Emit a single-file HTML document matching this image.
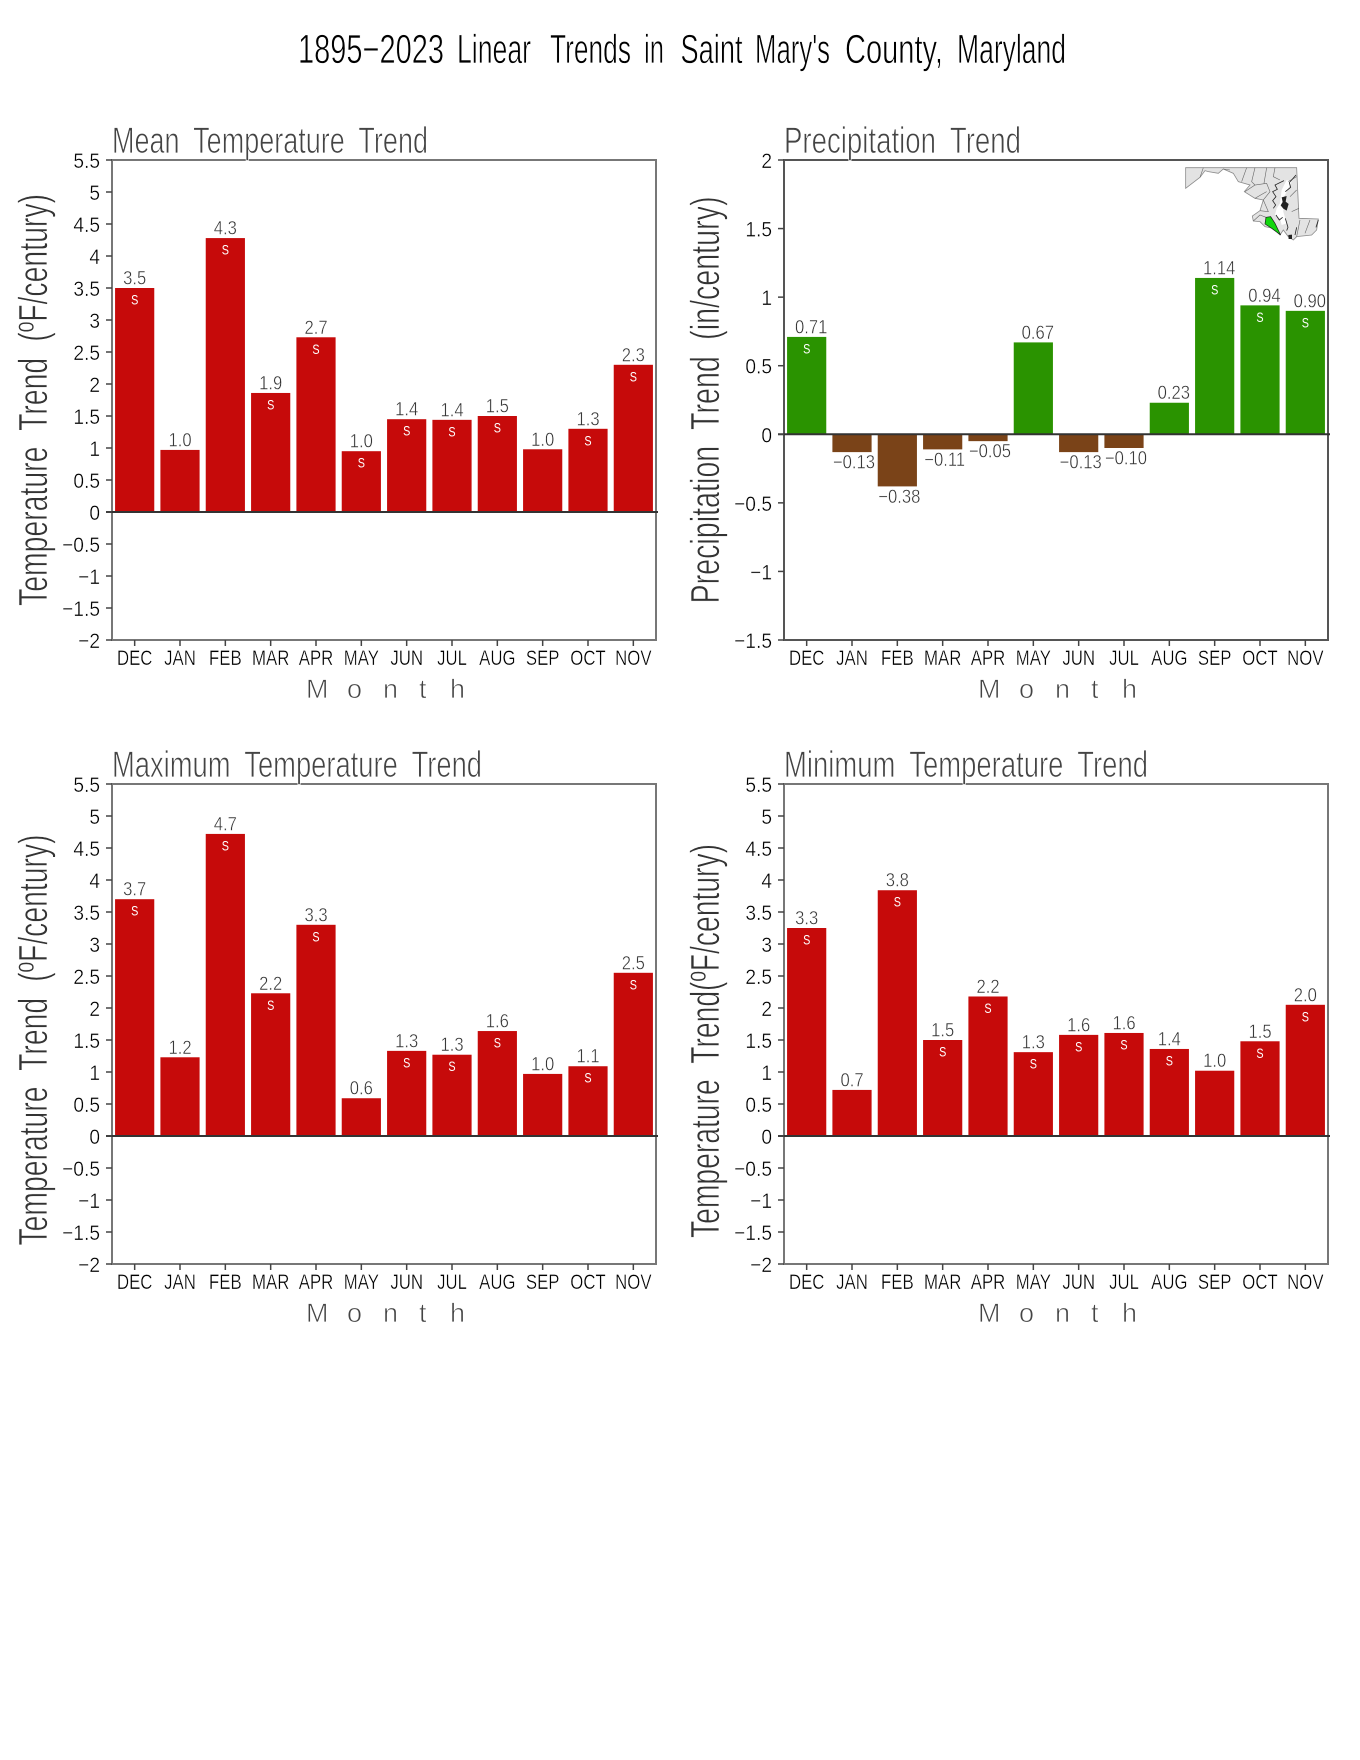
<!DOCTYPE html>
<html lang="en">
<head>
<meta charset="utf-8">
<title>1895–2023 Linear Trends in Saint Mary's County, Maryland</title>
<style>
html,body{margin:0;padding:0;background:#fff;width:1360px;height:1760px;overflow:hidden}
svg{display:block}
text{font-family:"Liberation Sans",sans-serif;white-space:pre}
.tw{font-size:41px;fill:#000;stroke:#fff;stroke-width:0.7px}
</style>
</head>
<body>
<svg id="chart" xmlns="http://www.w3.org/2000/svg" width="1360" height="1760" viewBox="0 0 1360 1760">
<rect x="0" y="0" width="1360" height="1760" fill="#fff"/>
<g>
<text class="tw" x="298" y="63" textLength="146" lengthAdjust="spacingAndGlyphs">1895−2023</text>
<text class="tw" x="457" y="63" textLength="74" lengthAdjust="spacingAndGlyphs">Linear</text>
<text class="tw" x="550" y="63" textLength="81" lengthAdjust="spacingAndGlyphs">Trends</text>
<text class="tw" x="644" y="63" textLength="20" lengthAdjust="spacingAndGlyphs">in</text>
<text class="tw" x="680.5" y="63" textLength="62" lengthAdjust="spacingAndGlyphs">Saint</text>
<text class="tw" x="755" y="63" textLength="75" lengthAdjust="spacingAndGlyphs">Mary's</text>
<text class="tw" x="845" y="63" textLength="98" lengthAdjust="spacingAndGlyphs">County,</text>
<text class="tw" x="957" y="63" textLength="109" lengthAdjust="spacingAndGlyphs">Maryland</text>
</g>
<g id="panels"></g>
<g transform="translate(1140,140) scale(0.3333)">
<polygon fill="#e3e3e3" stroke="#8a8a8a" stroke-width="2.4" points="137,83 470,83 477,235 535,237 530,270 515,285 470,290 460,300 445,290 430,270 420,285 400,265 375,260 360,245 340,243 337,228 360,212 370,180 345,175 313,155 330,135 295,125 280,100 250,87 235,100 205,95 195,92 180,112 137,145"/>
<polygon fill="#fff" points="440,120 425,150 420,190 410,205 405,225 420,235 425,255 440,250 430,215 430,175 445,145 455,125"/>
<path fill="none" stroke="#666" stroke-width="1.8" d="M190,83 L180,112 M250,87 L270,90 M320,83 L305,125 M345,83 L335,125 L345,135 L380,130 M380,83 L372,130 M405,83 L400,110 L420,120 M345,135 L315,155 M380,130 L390,155 L370,180 M345,175 L362,165 L380,155 M370,180 L385,215 L360,212 M470,150 L450,170 M477,205 L455,215 M470,110 L445,125 M480,240 L470,290 M510,240 L495,280 M340,243 L360,225 L378,232"/>
<path fill="none" stroke="#222" stroke-width="2.4" d="M432,122 L405,135 L412,148 L398,155 L408,170 L398,182 L407,195 L400,205 M468,105 L448,128 L452,142 L436,155 M408,225 L418,240 L428,232 M436,235 L444,262 L440,272 M470,262 L465,285 M535,240 L528,262"/>
<polygon fill="#222" points="425,172 440,168 437,185 446,192 440,212 430,206 422,196 428,186"/>
<polygon fill="#222" points="445,285 456,284 456,297 446,297"/>
<polygon fill="#12d60e" stroke="#1a1a1a" stroke-width="2" points="378,232 392,230 405,250 422,285 395,265 375,252"/>
</g>
</svg>
<script>
const categories = ['DEC','JAN','FEB','MAR','APR','MAY','JUN','JUL','AUG','SEP','OCT','NOV'];
const tempTicks = [5.5,5,4.5,4,3.5,3,2.5,2,1.5,1,0.5,0,-0.5,-1,-1.5,-2];
const precipTicks = [2,1.5,1,0.5,0,-0.5,-1,-1.5];

const meanValues = [3.5,0.97,4.28,1.86,2.73,0.95,1.45,1.44,1.5,0.98,1.3,2.3];
const meanLabels = ['3.5','1.0','4.3','1.9','2.7','1.0','1.4','1.4','1.5','1.0','1.3','2.3'];
const meanSignificant = [1,0,1,1,1,1,1,1,1,0,1,1];

const precipValues = [0.71,-0.13,-0.38,-0.11,-0.05,0.67,-0.13,-0.10,0.23,1.14,0.94,0.90];
const precipLabels = ['0.71','−0.13','−0.38','−0.11','−0.05','0.67','−0.13','−0.10','0.23','1.14','0.94','0.90'];
const precipSignificant = [1,0,0,0,0,0,0,0,0,1,1,1];

const maxValues = [3.7,1.23,4.72,2.23,3.3,0.59,1.33,1.27,1.64,0.97,1.09,2.55];
const maxLabels = ['3.7','1.2','4.7','2.2','3.3','0.6','1.3','1.3','1.6','1.0','1.1','2.5'];
const maxSignificant = [1,0,1,1,1,0,1,1,1,0,1,1];

const minValues = [3.25,0.72,3.84,1.5,2.18,1.31,1.58,1.61,1.36,1.02,1.48,2.05];
const minLabels = ['3.3','0.7','3.8','1.5','2.2','1.3','1.6','1.6','1.4','1.0','1.5','2.0'];
const minSignificant = [1,0,1,1,1,1,1,1,1,0,1,1];

const RED = '#c60a0a', GREEN = '#2a9300', BROWN = '#7a4318';
const PLOT_W = 544, PLOT_H = 480;
const NS = 'http://www.w3.org/2000/svg';
const root = document.getElementById('panels');

function make(tag, attrs, parent, txt) {
  const n = document.createElementNS(NS, tag);
  for (const k in attrs) n.setAttribute(k, attrs[k]);
  if (txt !== undefined) n.textContent = txt;
  parent.appendChild(n);
  return n;
}

function drawPanel(p) {
  const g = make('g', {}, root);
  
  
  const L = p.left, T = p.top, R = L + PLOT_W, B = T + PLOT_H;
  const yMax = p.ticks[0], yMin = p.ticks[p.ticks.length - 1];
  const yScale = v => T + (yMax - v) / (yMax - yMin) * PLOT_H;
  const xBand = PLOT_W / categories.length;
  const xScale = i => L + xBand * (i + 0.5);
  const y0 = yScale(0);

  // bars
  p.values.forEach((v, i) => {
    const yv = yScale(v);
    const color = v >= 0 ? p.posColor : BROWN;
    const bar = make('rect', {x: xScale(i) - 19.6, y: Math.min(yv, y0), width: 39.2, height: Math.abs(yv - y0), fill: color}, g);
    
    

    const off = p.name === 'precipitation' ? (v >= 0 ? 4.5 : 2) : 0;
    const base = v >= 0 ? yv - 3.5 : yv + 16.5;
    const lab = make('text', {transform: 'translate(' + (xScale(i) + off) + ',' + base + ') scale(0.9,1.05)', 'text-anchor': 'middle', 'font-size': 18.5, fill: '#333', stroke: '#fff', 'stroke-width': 0.4}, g, p.labels[i]);
    
    

    if (p.sig[i]) {
      const s = make('text', {transform: 'translate(' + xScale(i) + ',' + (yv + 16.5) + ') scale(0.8,1)', 'text-anchor': 'middle', 'font-size': 13.5, fill: '#fff'}, g, 'S');
      
      
    }
  });

  // frame
  const frame = make('rect', {x: L, y: T, width: PLOT_W, height: PLOT_H, fill: 'none', stroke: p.frame, 'stroke-width': 2}, g);
  
  

  // zero line
  const zero = make('line', {x1: L - 6, x2: R + 2, y1: y0, y2: y0, stroke: '#333', 'stroke-width': 2}, g);
  
  

  // y ticks
  p.ticks.forEach(t => {
    const yt = yScale(t);
    const tick = make('line', {x1: L - 6, x2: L, y1: yt, y2: yt, stroke: '#444', 'stroke-width': 1.5}, g);
    
    
    const lab = make('text', {transform: 'translate(' + (L - 12) + ',' + (yt + 8) + ') scale(0.96,1.06)', 'text-anchor': 'end', 'font-size': 20, fill: '#000', stroke: '#fff', 'stroke-width': 0.35}, g, String(t).replace('-', '−'));
    
    
  });

  // x ticks
  categories.forEach((c, i) => {
    const xt = xScale(i);
    const tick = make('line', {x1: xt, x2: xt, y1: B, y2: B + 6, stroke: '#444', 'stroke-width': 1.5}, g);
    
    
    const lab = make('text', {transform: 'translate(' + xt + ',' + (B + 25) + ') scale(0.84,1.04)', 'text-anchor': 'middle', 'font-size': 20, fill: '#000', stroke: '#fff', 'stroke-width': 0.35}, g, c);
    
    
  });

  // x axis title
  const xs = [194, 235, 271, 307, 338].map(d => L + d).join(' ');
  const xt = make('text', {x: xs, y: B + 58, 'font-size': 27, fill: '#444', stroke: '#fff', 'stroke-width': 0.7}, g, 'Month');
  
  

  // panel title
  const pt = make('text', {x: L, y: T - 7, 'font-size': 37, fill: '#444', stroke: '#fff', 'stroke-width': 0.8, textLength: p.titleW, lengthAdjust: 'spacingAndGlyphs', 'word-spacing': 9}, g, p.title);
  
  

  // y axis title
  const yt = make('text', {transform: 'translate(' + (L - 65) + ',' + p.ytC + ') rotate(-90)', 'text-anchor': 'middle', 'font-size': 41, fill: '#333', stroke: '#fff', 'stroke-width': 0.7, textLength: p.ytW, lengthAdjust: 'spacingAndGlyphs', 'word-spacing': 12}, g, p.yTitle);
  
  
}

drawPanel({name: 'mean-temperature', title: 'Mean Temperature Trend', titleW: 316, yTitle: 'Temperature Trend (ºF/century)', ytC: 400, ytW: 412, left: 112, top: 160, ticks: tempTicks, values: meanValues, labels: meanLabels, sig: meanSignificant, posColor: RED, frame: '#777'});
drawPanel({name: 'precipitation', title: 'Precipitation Trend', titleW: 237, yTitle: 'Precipitation Trend (in/century)', ytC: 400, ytW: 407, left: 784, top: 160, ticks: precipTicks, values: precipValues, labels: precipLabels, sig: precipSignificant, posColor: GREEN, frame: '#555'});
drawPanel({name: 'maximum-temperature', title: 'Maximum Temperature Trend', titleW: 370, yTitle: 'Temperature Trend (ºF/century)', ytC: 1040, ytW: 411, left: 112, top: 784, ticks: tempTicks, values: maxValues, labels: maxLabels, sig: maxSignificant, posColor: RED, frame: '#777'});
drawPanel({name: 'minimum-temperature', title: 'Minimum Temperature Trend', titleW: 364, yTitle: 'Temperature Trend(ºF/century)', ytC: 1041, ytW: 394, left: 784, top: 784, ticks: tempTicks, values: minValues, labels: minLabels, sig: minSignificant, posColor: RED, frame: '#777'});
</script>
</body>
</html>
